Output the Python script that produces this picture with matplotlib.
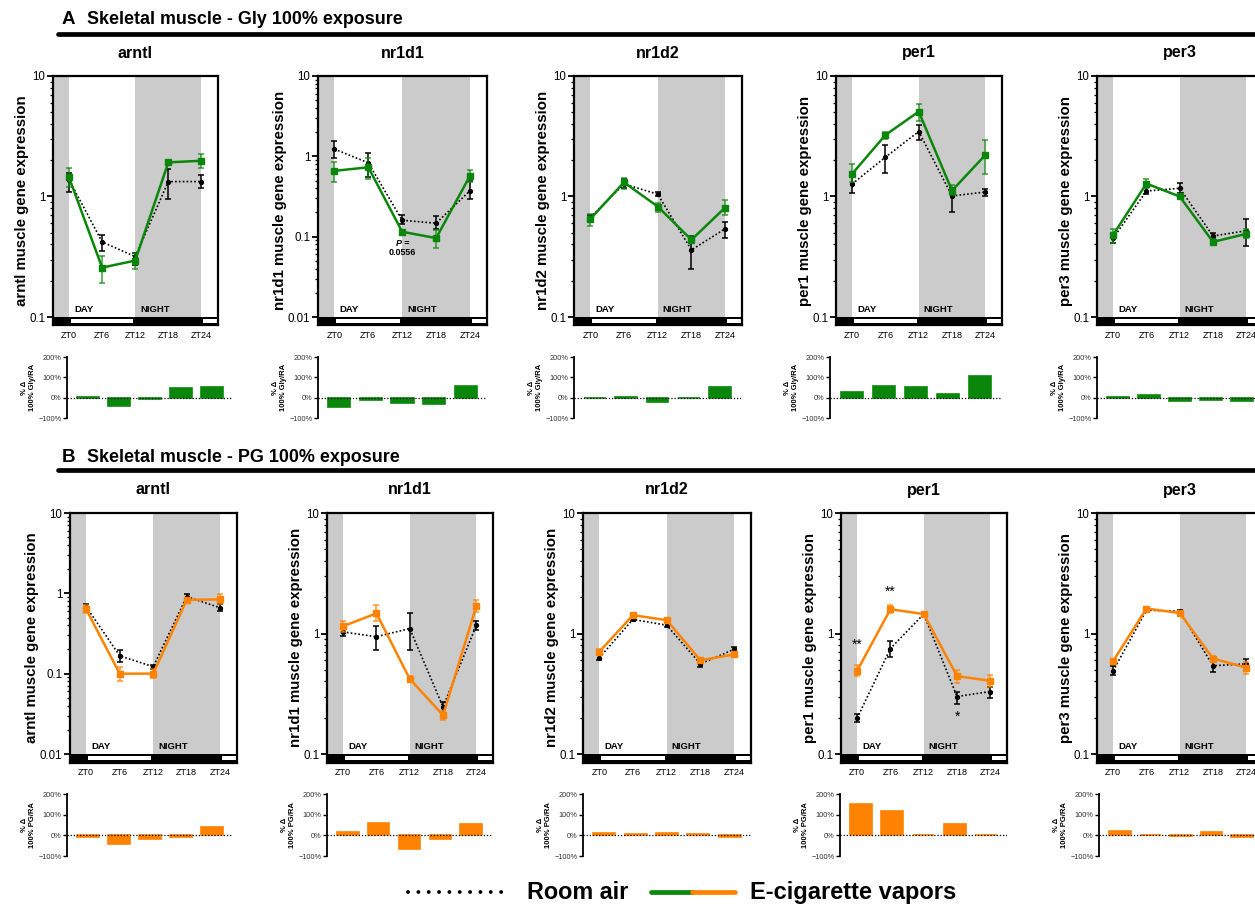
import numpy as np
import matplotlib
matplotlib.use('Agg')
import matplotlib.pyplot as plt
import matplotlib.transforms as mtransforms
from matplotlib.lines import Line2D
from matplotlib.patches import Rectangle
from matplotlib.ticker import FixedLocator, FixedFormatter, NullFormatter

plt.rcParams['font.family'] = ['Liberation Sans', 'DejaVu Sans']

W, H = 1255, 905

zt = [0, 6, 12, 18, 24]
zt_labels = ['ZT0', 'ZT6', 'ZT12', 'ZT18', 'ZT24']
genes = ['arntl', 'nr1d1', 'nr1d2', 'per1', 'per3']

# ---- panel A : Gly 100% vs room air ----
a_ymin = [0.1, 0.01, 0.1, 0.1, 0.1]
a_ra = [[1.38, 0.42, 0.317, 1.33, 1.33],
        [1.23, 0.83, 0.16, 0.147, 0.374],
        [0.67, 1.27, 1.045, 0.36, 0.54],
        [1.27, 2.12, 3.46, 1.01, 1.09],
        [0.45, 1.11, 1.17, 0.47, 0.52]]
a_ra_lo = [[1.10, 0.355, 0.27, 0.95, 1.17],
           [0.95, 0.56, 0.144, 0.125, 0.295],
           [0.61, 1.17, 1.01, 0.25, 0.45],
           [1.07, 1.58, 2.95, 0.75, 1.01],
           [0.41, 1.04, 1.07, 0.44, 0.39]]
a_ra_hi = [[1.56, 0.48, 0.34, 1.70, 1.51],
           [1.54, 1.10, 0.186, 0.18, 0.50],
           [0.70, 1.39, 1.08, 0.47, 0.62],
           [1.45, 2.68, 3.93, 1.17, 1.16],
           [0.49, 1.21, 1.29, 0.50, 0.65]]
a_gly = [[1.44, 0.257, 0.294, 1.92, 1.98],
         [0.66, 0.73, 0.115, 0.096, 0.575],
         [0.65, 1.31, 0.826, 0.437, 0.81],
         [1.54, 3.24, 5.06, 1.12, 2.21],
         [0.48, 1.28, 1.0, 0.42, 0.49]]
a_gly_lo = [[1.21, 0.19, 0.25, 1.85, 1.74],
            [0.48, 0.52, 0.108, 0.072, 0.48],
            [0.57, 1.15, 0.75, 0.41, 0.70],
            [1.31, 2.99, 4.27, 1.03, 1.54],
            [0.41, 1.17, 0.97, 0.40, 0.45]]
a_gly_hi = [[1.72, 0.32, 0.34, 1.98, 2.25],
            [0.84, 0.94, 0.122, 0.122, 0.675],
            [0.72, 1.42, 0.89, 0.47, 0.93],
            [1.87, 3.46, 5.83, 1.25, 2.95],
            [0.54, 1.39, 1.03, 0.44, 0.54]]
a_pct = [[3, -43, -8, 48, 51],
         [-45, -12, -28, -33, 55],
         [-3, 3, -22, -3, 53],
         [29, 59, 51, 16, 109],
         [3, 12, -15, -12, -16]]

# ---- panel B : PG 100% vs room air ----
b_ymin = [0.01, 0.1, 0.1, 0.1, 0.1]
b_ra = [[0.68, 0.167, 0.122, 0.91, 0.66],
        [1.03, 0.94, 1.10, 0.246, 1.17],
        [0.63, 1.31, 1.17, 0.56, 0.74],
        [0.198, 0.75, 1.45, 0.30, 0.33],
        [0.49, 1.56, 1.53, 0.54, 0.56]]
b_ra_lo = [[0.63, 0.14, 0.115, 0.85, 0.60],
           [0.96, 0.73, 0.73, 0.22, 1.07],
           [0.60, 1.27, 1.13, 0.53, 0.70],
           [0.183, 0.64, 1.38, 0.26, 0.29],
           [0.45, 1.50, 1.47, 0.48, 0.51]]
b_ra_hi = [[0.73, 0.196, 0.13, 0.97, 0.73],
           [1.09, 1.15, 1.48, 0.27, 1.27],
           [0.66, 1.35, 1.22, 0.59, 0.78],
           [0.215, 0.87, 1.50, 0.33, 0.36],
           [0.54, 1.62, 1.58, 0.60, 0.62]]
b_pg = [[0.63, 0.10, 0.10, 0.83, 0.84],
        [1.15, 1.47, 0.42, 0.21, 1.69],
        [0.705, 1.42, 1.29, 0.60, 0.67],
        [0.49, 1.59, 1.45, 0.443, 0.405],
        [0.59, 1.61, 1.48, 0.62, 0.52]]
b_pg_lo = [[0.575, 0.08, 0.088, 0.79, 0.73],
           [1.03, 1.28, 0.40, 0.19, 1.50],
           [0.67, 1.36, 1.23, 0.57, 0.64],
           [0.44, 1.48, 1.38, 0.385, 0.36],
           [0.56, 1.55, 1.42, 0.59, 0.46]]
b_pg_hi = [[0.72, 0.12, 0.114, 0.87, 0.97],
           [1.28, 1.72, 0.44, 0.226, 1.89],
           [0.74, 1.48, 1.35, 0.63, 0.70],
           [0.55, 1.72, 1.52, 0.50, 0.45],
           [0.62, 1.67, 1.54, 0.65, 0.58]]
b_pct = [[-6, -42, -19, -8, 42],
         [16, 60, -68, -19, 56],
         [10, 5, 9, 6, -8],
         [151, 117, 2, 54, 4],
         [20, 3, -3, 18, -7]]

GREEN = '#0a870a'
ORANGE = '#ff8300'
GREY = '#cbcbcb'

fig = plt.figure(figsize=(W / 100, H / 100), dpi=100)


def px_axes(left, right, top, bottom):
    return fig.add_axes([left / W, 1 - bottom / H, (right - left) / W, (bottom - top) / H])


def draw_main(ax, ra, ra_lo, ra_hi, ex, ex_lo, ex_hi, color, ymin, gene):
    strip_px, data_px = 8.5, 241.0
    dec = np.log10(10 / ymin)
    ybot = ymin / 10 ** (strip_px / data_px * dec)
    frac = strip_px / (strip_px + data_px)
    ax.set_yscale('log')
    ax.set_ylim(ybot, 10)
    ax.set_xlim(-2.9, 27)
    tr = mtransforms.blended_transform_factory(ax.transData, ax.transAxes)
    ax.add_patch(Rectangle((-2.9, frac), 2.9, 1 - frac, transform=tr, color=GREY, lw=0, zorder=0))
    ax.add_patch(Rectangle((12, frac), 12, 1 - frac, transform=tr, color=GREY, lw=0, zorder=0))
    ax.add_patch(Rectangle((-2.9, 0), 29.9, frac, transform=tr, color='black', lw=0, zorder=1))
    ax.add_patch(Rectangle((0.35, 0.28 * frac), 11.3, 0.5 * frac, transform=tr,
                           color='white', lw=0, zorder=2))
    ax.add_patch(Rectangle((24.35, 0.28 * frac), 3, 0.5 * frac, transform=tr,
                           color='white', lw=0, zorder=2))
    ax.text(0.9, frac + 0.012, 'DAY', transform=tr, fontsize=6.8, fontweight='bold', va='bottom')
    ax.text(12.9, frac + 0.012, 'NIGHT', transform=tr, fontsize=6.8, fontweight='bold', va='bottom')

    ra = np.array(ra); ex = np.array(ex)
    ax.errorbar(zt, ra, yerr=[ra - np.array(ra_lo), np.array(ra_hi) - ra], color='black',
                ls=(0, (1, 1.3)), lw=1.2, marker='o', ms=2.8, elinewidth=1.1,
                capsize=2.2, capthick=1.1, zorder=4)
    ax.errorbar(zt, ex, yerr=[ex - np.array(ex_lo), np.array(ex_hi) - ex], fmt='none',
                ecolor=color, alpha=0.8, elinewidth=1.1, capsize=2.2, capthick=1.1, zorder=5)
    ax.plot(zt, ex, color=color, lw=1.8, marker='s', ms=4.5, zorder=6)

    majors = [v for v in [0.01, 0.1, 1, 10] if v >= ymin]
    minors = [m * 10.0 ** e for e in range(-3, 1) for m in range(2, 10)
              if ymin <= m * 10.0 ** e < 10]
    ax.yaxis.set_major_locator(FixedLocator(majors))
    ax.yaxis.set_major_formatter(FixedFormatter([f'{v:g}' for v in majors]))
    ax.yaxis.set_minor_locator(FixedLocator(minors))
    ax.yaxis.set_minor_formatter(NullFormatter())
    ax.tick_params(axis='y', which='major', direction='out', length=4, width=1.3, labelsize=8.3, pad=1.5)
    ax.tick_params(axis='y', which='minor', direction='out', length=2.5, width=0.9)
    ax.set_xticks(zt)
    ax.set_xticklabels(zt_labels)
    ax.tick_params(axis='x', length=0, labelsize=6.5, pad=4)
    for s in ax.spines.values():
        s.set_linewidth(1.6)
    ax.set_ylabel(f'{gene} muscle gene expression', fontsize=10.8, fontweight='bold', labelpad=0.5)


def draw_bars(ax, pct, color, lab):
    ax.bar(range(5), pct, width=0.7, color=color, edgecolor=color, lw=1.2, zorder=2)
    ax.axhline(0, color='black', ls=(0, (1, 1.5)), lw=0.9, zorder=3)
    ax.set_xlim(-0.68, 4.68)
    ax.set_ylim(-100, 200)
    for k in ['top', 'right', 'bottom']:
        ax.spines[k].set_visible(False)
    ax.spines['left'].set_linewidth(1.3)
    ax.set_xticks([])
    ax.set_yticks([-100, 0, 100, 200])
    ax.set_yticklabels(['\u2212100%', '0%', '100%', '200%'])
    ax.tick_params(axis='y', length=3, width=1, labelsize=5.3, pad=1, labelcolor='#333333')
    ax.set_ylabel(f'% \u0394\n100% {lab}/RA', fontsize=5.5, fontweight='bold', labelpad=2,
                  linespacing=1.1)


def header(letter, text, y_text, y_line):
    fig.text(62 / W, 1 - y_text / H, letter, fontsize=13.5, fontweight='bold', va='center')
    fig.text(87 / W, 1 - y_text / H, text, fontsize=12.9, fontweight='bold', va='center')
    fig.add_artist(Line2D([58 / W, 1.01], [1 - y_line / H] * 2, transform=fig.transFigure,
                          color='black', lw=3.4, solid_capstyle='round'))


# layout (pixel boxes)
a_main_x = [(53, 218), (318, 487), (574, 742), (836, 1002), (1097, 1263)]
a_bar_x = [(67, 233), (318, 487), (574, 741), (830, 1002), (1097, 1263)]
b_main_x = [(70, 237), (327, 493), (583, 751), (841, 1007), (1097, 1263)]
b_bar_x = [(67, 233), (327, 492), (583, 751), (840, 1007), (1099, 1263)]

header('A', 'Skeletal muscle - Gly 100% exposure', 20, 34)
header('B', 'Skeletal muscle - PG 100% exposure', 457, 470)

a_axes = []
for i, g in enumerate(genes):
    l, r = a_main_x[i]
    ax = px_axes(l, r, 76, 325.5)
    draw_main(ax, a_ra[i], a_ra_lo[i], a_ra_hi[i], a_gly[i], a_gly_lo[i], a_gly_hi[i],
              GREEN, a_ymin[i], g)
    fig.text((l + r) / 2 / W, 1 - 53 / H, g, ha='center', va='center', fontsize=11.5, fontweight='bold')
    a_axes.append(ax)
    bl, br = a_bar_x[i]
    bax = px_axes(bl, br, 357, 418)
    draw_bars(bax, a_pct[i], GREEN, 'Gly')

b_axes = []
for i, g in enumerate(genes):
    l, r = b_main_x[i]
    ax = px_axes(l, r, 513, 762.5)
    draw_main(ax, b_ra[i], b_ra_lo[i], b_ra_hi[i], b_pg[i], b_pg_lo[i], b_pg_hi[i],
              ORANGE, b_ymin[i], g)
    fig.text((l + r) / 2 / W, 1 - 490 / H, g, ha='center', va='center', fontsize=11.5, fontweight='bold')
    b_axes.append(ax)
    bl, br = b_bar_x[i]
    bax = px_axes(bl, br, 794, 856)
    draw_bars(bax, b_pct[i], ORANGE, 'PG')

# statistics annotations
a_axes[1].text(12, 0.083, 'P =', ha='center', va='center', fontsize=6.5, fontweight='bold',
               fontstyle='italic', zorder=7)
a_axes[1].text(12, 0.063, '0.0556', ha='center', va='center', fontsize=6.5, fontweight='bold', zorder=7)
b_axes[3].text(0, 0.80, '**', ha='center', va='center', fontsize=10, zorder=7)
b_axes[3].text(6, 2.2, '**', ha='center', va='center', fontsize=10, zorder=7)
b_axes[3].text(18, 0.205, '*', ha='center', va='center', fontsize=10, zorder=7)

# legend
yl = 1 - 892 / H
fig.add_artist(Line2D([408 / W, 510 / W], [yl, yl], transform=fig.transFigure, color='black',
                      lw=2.8, ls=(0, (0.01, 2.65)), dash_capstyle='round'))
fig.text(527 / W, yl, 'Room air', fontsize=16.8, fontweight='bold', va='center')
fig.add_artist(Line2D([651 / W, 692 / W], [yl, yl], transform=fig.transFigure, color=GREEN,
                      lw=3.4, solid_capstyle='round'))
fig.add_artist(Line2D([692 / W, 735 / W], [yl, yl], transform=fig.transFigure, color=ORANGE,
                      lw=3.4, solid_capstyle='round'))
fig.text(750 / W, yl, 'E-cigarette vapors', fontsize=17, fontweight='bold', va='center')

fig.savefig('out.png', dpi=100)
